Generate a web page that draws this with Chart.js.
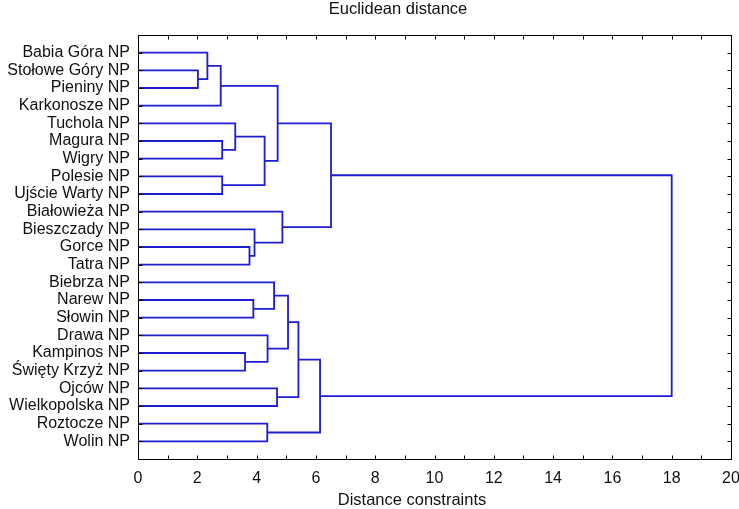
<!DOCTYPE html>
<html>
<head>
<meta charset="utf-8">
<title>Euclidean distance</title>
<script src="https://cdn.jsdelivr.net/npm/chart.js@4.4.1/dist/chart.umd.min.js"></script>
<style>
    html, body { margin: 0; padding: 0; background: #fff; }
    #wrap { width: 739px; height: 509px; }
</style>
</head>
<body>
<div id="wrap"><canvas id="chart" width="739" height="509"></canvas></div>
<script>
    // Leaves, top to bottom
    const parks = [
        'Babia Góra NP', 'Stołowe Góry NP', 'Pieniny NP', 'Karkonosze NP',
        'Tuchola NP', 'Magura NP', 'Wigry NP', 'Polesie NP', 'Ujście Warty NP',
        'Białowieża NP', 'Bieszczady NP', 'Gorce NP', 'Tatra NP',
        'Biebrza NP', 'Narew NP', 'Słowin NP', 'Drawa NP', 'Kampinos NP',
        'Święty Krzyż NP', 'Ojców NP', 'Wielkopolska NP', 'Roztocze NP', 'Wolin NP'
    ];

    // Merges: child ids (< 23 = leaf, otherwise 23 + merge index) and linkage distance
    const mergeLeft  = [1, 0, 24, 5, 4, 7, 27, 25, 11, 10, 9, 30, 14, 13, 17, 16, 36, 19, 39, 21, 41, 34];
    const mergeRight = [2, 23, 3, 6, 26, 8, 28, 29, 12, 31, 32, 33, 15, 35, 18, 37, 38, 20, 40, 22, 42, 43];
    const mergeDist  = [2.02, 2.34, 2.79, 2.84, 3.28, 2.84, 4.27, 4.71, 3.76, 3.93, 4.87, 6.51,
                        3.89, 4.59, 3.61, 4.37, 5.06, 4.69, 5.41, 4.36, 6.14, 18.0];

    const xMin = 0, xMax = 20, xStep = 2;

    const LINE_COLOR = '#1c1cd0';
    const TEXT_COLOR = '#111';
    const FONT = '"Liberation Sans", Arial, Helvetica, sans-serif';

    /**
     * Build one bracket (U shape) per merge
     */
    function buildDatasets() {
        const nodeX = parks.map(() => 0);
        const nodeY = parks.map((_, i) => i);
        const sets = [];

        mergeDist.forEach((d, k) => {
            const a = mergeLeft[k], b = mergeRight[k];
            sets.push({
                data: [
                    { x: nodeX[a], y: nodeY[a] },
                    { x: d, y: nodeY[a] },
                    { x: d, y: nodeY[b] },
                    { x: nodeX[b], y: nodeY[b] }
                ],
                showLine: true,
                borderColor: LINE_COLOR,
                borderWidth: 1.8,
                pointRadius: 0,
                fill: false,
                tension: 0
            });
            nodeX.push(d);
            nodeY.push((nodeY[a] + nodeY[b]) / 2);
        });
        return sets;
    }

    // Frame, inward tick marks and titles
    const framePlugin = {
        id: 'frame',
        afterDraw(chart) {
            const ctx = chart.ctx;
            const area = chart.chartArea;
            const xs = chart.scales.x, ys = chart.scales.y;
            const L = Math.round(area.left) + 0.5, R = Math.round(area.right) + 0.5;
            const T = Math.round(area.top) + 0.5, B = Math.round(area.bottom) + 0.5;

            ctx.save();
            ctx.strokeStyle = '#000';
            ctx.lineWidth = 1;
            ctx.strokeRect(L, T, R - L, B - T);

            ctx.beginPath();
            for (let v = xMin; v <= xMax; v++) {
                const px = Math.round(xs.getPixelForValue(v)) + 0.5;
                ctx.moveTo(px, B); ctx.lineTo(px, B - 4);
                ctx.moveTo(px, T); ctx.lineTo(px, T + 4);
            }
            parks.forEach((_, i) => {
                const py = Math.round(ys.getPixelForValue(i)) + 0.5;
                ctx.moveTo(L, py); ctx.lineTo(L + 4, py);
                ctx.moveTo(R, py); ctx.lineTo(R - 4, py);
            });
            ctx.stroke();

            ctx.fillStyle = TEXT_COLOR;
            ctx.font = '16.5px ' + FONT;
            ctx.textAlign = 'center';
            ctx.textBaseline = 'middle';
            ctx.fillText('Euclidean distance', 398, 9);
            ctx.fillText('Distance constraints', 412, 500);
            ctx.restore();
        }
    };

    new Chart(document.getElementById('chart').getContext('2d'), {
        type: 'scatter',
        data: { datasets: buildDatasets() },
        options: {
            responsive: false,
            animation: false,
            devicePixelRatio: 1,
            layout: { padding: { top: 35, right: 0, left: 0, bottom: 0 } },
            plugins: {
                legend: { display: false },
                tooltip: { enabled: false },
                title: { display: false }
            },
            scales: {
                x: {
                    type: 'linear',
                    min: xMin,
                    max: xMax,
                    grid: { display: false, drawTicks: false, tickLength: 0 },
                    border: { display: true, color: '#000', width: 1 },
                    ticks: {
                        stepSize: xStep,
                        padding: 10,
                        color: TEXT_COLOR,
                        font: { size: 16, family: FONT }
                    },
                    afterFit(scale) {
                        scale.height = 50;
                        scale.paddingRight = 8;
                    }
                },
                y: {
                    type: 'linear',
                    reverse: true,
                    min: -1,
                    max: parks.length,
                    grid: { display: false, drawTicks: false, tickLength: 0 },
                    border: { display: true, color: '#000', width: 1 },
                    afterBuildTicks(scale) {
                        scale.ticks = parks.map((_, i) => ({ value: i }));
                    },
                    ticks: {
                        autoSkip: false,
                        padding: 8,
                        color: TEXT_COLOR,
                        font: { size: 16, family: FONT },
                        callback: (v) => parks[v]
                    },
                    afterFit(scale) { scale.width = 138; }
                }
            }
        },
        plugins: [framePlugin]
    });
</script>
</body>
</html>
